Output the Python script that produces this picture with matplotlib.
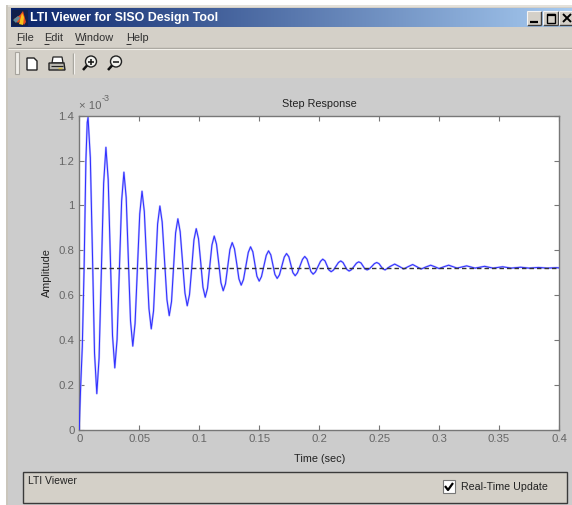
import matplotlib
matplotlib.use('Agg')
import matplotlib.pyplot as plt
import numpy as np
from matplotlib.patches import Rectangle, Circle, Polygon

plt.rcParams['font.family'] = ['Liberation Sans', 'DejaVu Sans']

W, H = 572, 505

# step response, amplitude in units of 1e-3
time_rise = [0, .0004, .0012, .0025, .004, .0055, .0066, .0073]
amp_rise = [0, .08, .2, .37, .72, 1.2, 1.37, 1.392]

time_osc = [.0092, .0110, .0127, .0146, .0165, .0184, .0203, .0222, .0241, .0259, .0277, .0296,
            .0315, .0334, .0353, .0372, .0391, .0409, .0427, .0446, .0465, .0485, .0504, .0523,
            .0542, .0561, .0581, .060, .0619, .0636, .0653, .0672, .0691, .0711, .0731, .075,
            .0769, .0786, .0803, .0822, .0841, .0861, .0881, .090, .0919, .0938, .0956, .0975,
            .0994, .1013, .1031, .105, .1069, .1088, .1106, .1125, .1144, .1163, .1181, .12,
            .1219, .1238, .1256, .1275, .1294, .1313, .1331, .135, .1369, .1389, .1409, .1428,
            .1447, .1464, .1481, .15, .1519, .1539, .1559, .1578, .1597, .1614, .1631, .165,
            .1669, .1689, .1709, .1728, .1747, .1764, .1781, .18, .1819, .184, .1861, .188,
            .1899, .1915, .1931, .195, .1969, .199, .2011, .203, .2049, .2065, .2081, .21,
            .2119, .214, .2161, .218, .2199, .2215, .2231, .225, .2269, .229, .2311, .233,
            .2349, .2365, .2381, .24, .2419, .244, .2461, .248, .2499, .2515, .2531, .255]
amp_osc = [1.212, .776, .340, .16, .320, .710, 1.099, 1.259, 1.115, .767, .419, .275,
           .402, .712, 1.020, 1.148, 1.035, .76, .485, .372, .473, .718, .962, 1.063,
           .973, .756, .539, .449, .529, .723, .917, .997, .926, .753, .579, .508,
           .571, .724, .877, .94, .883, .746, .609, .552, .602, .724, .846, .896,
           .851, .743, .635, .59, .63, .727, .823, .863, .827, .741, .655, .619,
           .65, .727, .803, .834, .806, .739, .672, .644, .669, .73, .79, .815,
           .793, .739, .684, .662, .682, .73, .777, .797, .779, .736, .692, .674,
           .69, .73, .769, .785, .771, .736, .7, .686, .699, .729, .759, .772,
           .76, .733, .705, .693, .703, .727, .75, .76, .752, .732, .712, .704,
           .711, .728, .745, .752, .745, .73, .714, .707, .713, .727, .742, .748,
           .743, .73, .717, .712, .717, .728, .74, .745, .74, .728, .717, .712]

time_tail = [.259, .263, .267, .2705, .274, .278, .2815, .285, .289, .293, .2965, .30, .304, .308,
             .315, .323, .33, .338, .345, .353, .36, .368, .375, .383, .39, .398, .4]
amp_tail = [.727, .738, .727, .716, .726, .736, .726, .716, .725, .733, .726, .718, .726, .733,
            .72, .73, .72, .728, .72, .726, .72, .724, .72, .723, .72, .722, .721]

final_value = .72
xticks = [0, .05, .1, .15, .2, .25, .3, .35, .4]
xticklabels = ['0', '0.05', '0.1', '0.15', '0.2', '0.25', '0.3', '0.35', '0.4']
yticks = [0, .2, .4, .6, .8, 1, 1.2, 1.4]
yticklabels = ['0', '0.2', '0.4', '0.6', '0.8', '1', '1.2', '1.4']
menu_names = ['File', 'Edit', 'Window', 'Help']
menu_x = [16, 44, 75, 126]

BEIGE = '#d4d0c8'
GRAY = '#cccccc'
TICK = '#666666'
DARK = '#222222'

fig = plt.figure(figsize=(W / 100, H / 100), dpi=100, facecolor='white')

# window in pixel coordinates
bg = fig.add_axes([0, 0, 1, 1])
bg.set_xlim(0, W)
bg.set_ylim(H, 0)
bg.axis('off')


def rect(x0, y0, x1, y1, fc, ec='none', lw=0.0, z=1):
    bg.add_patch(Rectangle((x0, y0), x1 - x0, y1 - y0, facecolor=fc, edgecolor=ec, linewidth=lw, zorder=z))


def line(xs, ys, c='k', lw=1.0, z=3):
    bg.plot(xs, ys, color=c, lw=lw, zorder=z, solid_capstyle='butt')


rect(6, 5, W, H, BEIGE)
rect(6, 5, W, 6.5, '#e4e1da')
rect(8, 78, W, H, GRAY)
line([7, 7], [5, H], '#c8c4ba', 1.2)
line([8, W], [48, 48], '#a9a69f', 1.0)
line([8, W], [49.3, 49.3], '#f2f0ea', 0.8)

# title bar gradient
grad = np.linspace(0, 1, 256).reshape(1, -1)
cmap = matplotlib.colors.LinearSegmentedColormap.from_list('tb', ['#0a246a', '#a6caf0'])
bg.imshow(grad, extent=(11, W, 27.5, 9), aspect='auto', cmap=cmap, zorder=1)
bg.set_xlim(0, W)
bg.set_ylim(H, 0)
bg.text(30, 18.5, 'LTI Viewer for SISO Design Tool', color='white', fontsize=8.9, fontweight='bold',
        va='center', ha='left', zorder=4)

# matlab logo
rect(12, 10, 28, 26, '#10204a', z=2)
bg.add_patch(Polygon([[14, 19], [20, 15], [23, 11], [26, 22], [24, 25], [21, 20], [18, 23]], facecolor='#e8481c', zorder=3))
bg.add_patch(Polygon([[19, 24], [22, 13], [24, 17], [23, 25]], facecolor='#f6c21a', zorder=4))
bg.add_patch(Polygon([[13, 20], [18, 16], [20, 18], [16, 23]], facecolor='#5f8a96', zorder=4))

# window buttons
for x0, x1 in [(527, 541), (543, 558), (559, 574)]:
    rect(x0, 11, x1, 25, BEIGE, z=2)
    line([x0, x1], [25, 25], '#404040', 1.0)
    line([x1, x1], [11, 25], '#404040', 1.0)
    line([x0, x1], [11, 11], '#f4f4f4', 0.8)
    line([x0, x0], [11, 25], '#f4f4f4', 0.8)
line([530, 538], [21.5, 21.5], 'k', 1.6)
bg.add_patch(Rectangle((547, 14), 8, 8.5, facecolor='none', edgecolor='k', linewidth=1.0, zorder=4))
line([547, 555], [14.5, 14.5], 'k', 1.6)
line([563, 571], [14, 22], 'k', 1.4)
line([563, 571], [22, 14], 'k', 1.4)

# menu
for name, x in zip(menu_names, menu_x):
    bg.text(x, 38, name, fontsize=7.9, color='#303030', va='center', ha='left', zorder=4)
    uw = 5 if name != 'Window' else 9
    line([x, x + uw], [44, 44], '#303030', 0.7)

# toolbar
rect(15, 52, 19, 74, '#efede8', ec='#a8a59e', lw=0.8, z=2)
line([73, 73], [53, 74], '#a5a39c', 1.0)
line([74, 74], [53, 74], '#f4f2ee', 0.8)
bg.add_patch(Polygon([[27, 58], [34, 58], [37, 61], [37, 70], [27, 70]], facecolor='white', edgecolor='#222222', linewidth=1.0, zorder=3))
bg.add_patch(Polygon([[53, 57], [62, 57], [63, 63], [52, 63]], facecolor='white', edgecolor='#222222', linewidth=0.9, zorder=3))
bg.add_patch(Polygon([[49, 63], [64, 63], [65, 70], [49, 70]], facecolor='#b8b6ae', edgecolor='#222222', linewidth=1.0, zorder=4))
line([51, 63], [66, 66], '#222222', 0.8, 5)
line([58, 62], [67.5, 67.5], '#d8c040', 1.0, 5)
for cx, plus in [(91, True), (116, False)]:
    bg.add_patch(Circle((cx, 61.5), 5.5, facecolor='#f2f2ee', edgecolor='#222222', linewidth=1.0, zorder=3))
    line([cx - 4, cx - 8], [65.5, 70], '#111111', 1.8)
    line([cx - 3, cx + 3], [61.5, 61.5], '#111111', 1.1, 4)
    if plus:
        line([cx, cx], [58.5, 64.5], '#111111', 1.1, 4)

# bottom panel
rect(23, 472, 566.5, 502.5, BEIGE, ec='#3a3a3a', lw=1.0, z=2)
bg.text(28, 481, 'LTI Viewer', fontsize=7.5, color='#222222', va='center', ha='left', zorder=4)
rect(442.5, 480, 455, 492.5, 'white', ec='#777777', lw=0.8, z=3)
line([445, 448, 453], [486, 490, 483], 'k', 1.6, 4)
bg.text(461, 487, 'Real-Time Update', fontsize=7.7, color='#222222', va='center', ha='left', zorder=4)

# plot
ax_l, ax_r, ax_t, ax_b = 79.3, 559, 115.7, 429.5
ax = fig.add_axes([ax_l / W, 1 - ax_b / H, (ax_r - ax_l) / W, (ax_b - ax_t) / H], facecolor='white')
time = time_rise + time_osc + time_tail
amp = amp_rise + amp_osc + amp_tail
ax.plot(time, amp, color='#c0c0ff', lw=1.5, zorder=2)     # blur round the line
ax.plot(time, amp, color='#3030ff', lw=0.75, zorder=3)
ax.axhline(final_value, color='#333333', lw=1.0, ls=(0, (3.2, 2.2)), zorder=4)
ax.set_xlim(0, .4)
ax.set_ylim(0, 1.4)
ax.set_xticks(xticks)
ax.set_xticklabels(xticklabels)
ax.set_yticks(yticks)
ax.set_yticklabels(yticklabels)
ax.tick_params(direction='in', length=3.5, width=0.8, color='#777777', labelcolor=TICK,
               labelsize=8.2, top=True, right=True, pad=3.5)
for s in ax.spines.values():
    s.set_color('#777777')
    s.set_linewidth(1.0)
ax.set_xlabel('Time (sec)', fontsize=7.8, color=DARK, labelpad=7)
ax.set_ylabel('Amplitude', fontsize=7.8, color=DARK, labelpad=5)
ax.set_title('Step Response', fontsize=7.8, color=DARK, pad=6)
bg.text(79, 106, '× 10', fontsize=8.2, color=TICK, va='center', ha='left', zorder=4)
bg.text(101.5, 98.5, '-3', fontsize=6.5, color=TICK, va='center', ha='left', zorder=4)

fig.savefig('out.png', dpi=100, facecolor='white')
